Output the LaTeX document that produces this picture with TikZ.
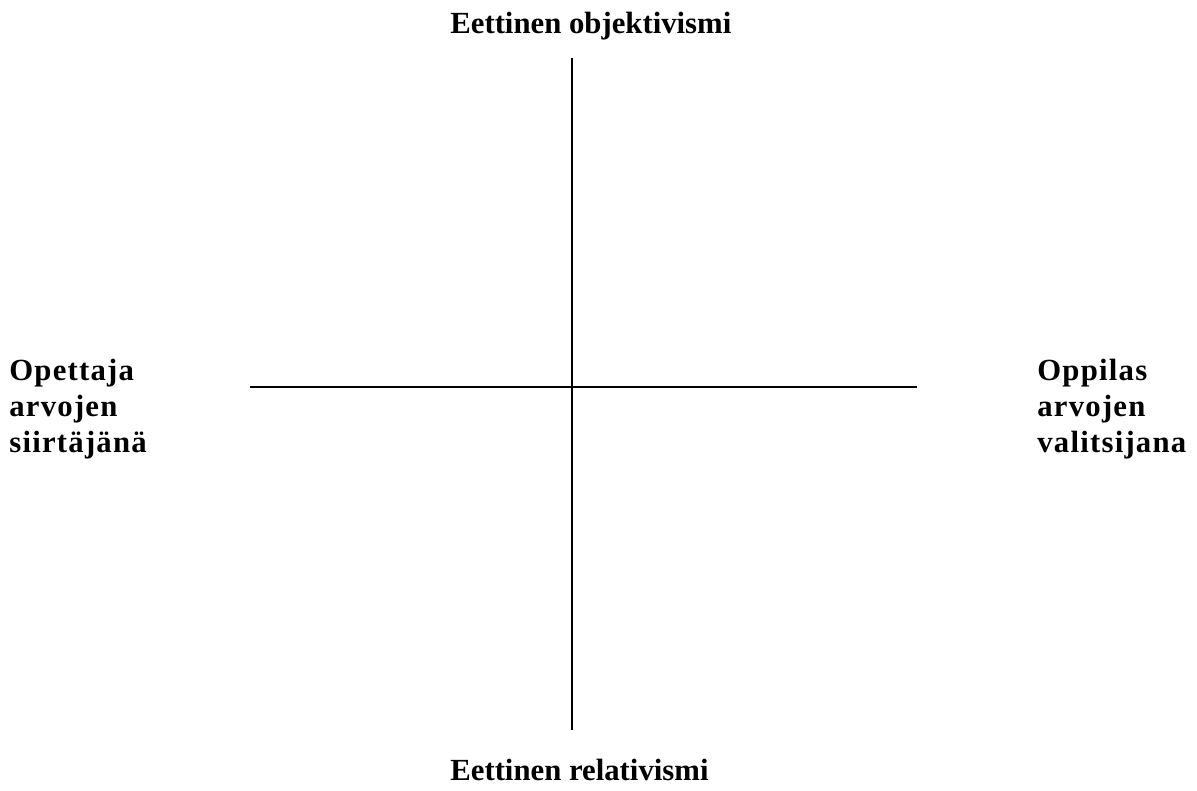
\documentclass[tikz,border=0pt]{standalone}
\usepackage{fontspec}
\setmainfont{Liberation Serif}
\newfontfamily\harva[LetterSpace=4]{Liberation Serif}
\usepackage{tikz}
\usetikzlibrary{calc}
\tikzset{nimi/.style={font=\fontsize{17.5}{20.4}\selectfont\bfseries, inner sep=0, align=left}}

\begin{document}
\begin{tikzpicture}[x=0.02cm, y=-0.02cm]
\useasboundingbox (0,0) rectangle (1197,791);
\coordinate (ylos) at (572,58);
\coordinate (alas) at (572,730);
\coordinate (vasen) at (250,387);
\coordinate (oikea) at (917,387);
\draw[black, line width=1.4pt] (ylos)--(alas);
\draw[black, line width=1.4pt] (vasen)--(oikea);

\node[nimi, anchor=base west] (objektiv) at (450,33) {Eettinen objektivismi};
\node[nimi, anchor=base west] (relativ) at (450,780) {Eettinen relativismi};
% kolmirivinen: base = viimeinen rivi
\node[nimi, anchor=base west, font=\harva\fontsize{17.5}{20.4}\selectfont\bfseries] (opettaja) at (9,452) {Opettaja\\arvojen\\siirtäjänä};
\node[nimi, anchor=base west, font=\harva\fontsize{17.5}{20.4}\selectfont\bfseries] (oppilas) at (1037,452) {Oppilas\\arvojen\\valitsijana};
\end{tikzpicture}
\end{document}
